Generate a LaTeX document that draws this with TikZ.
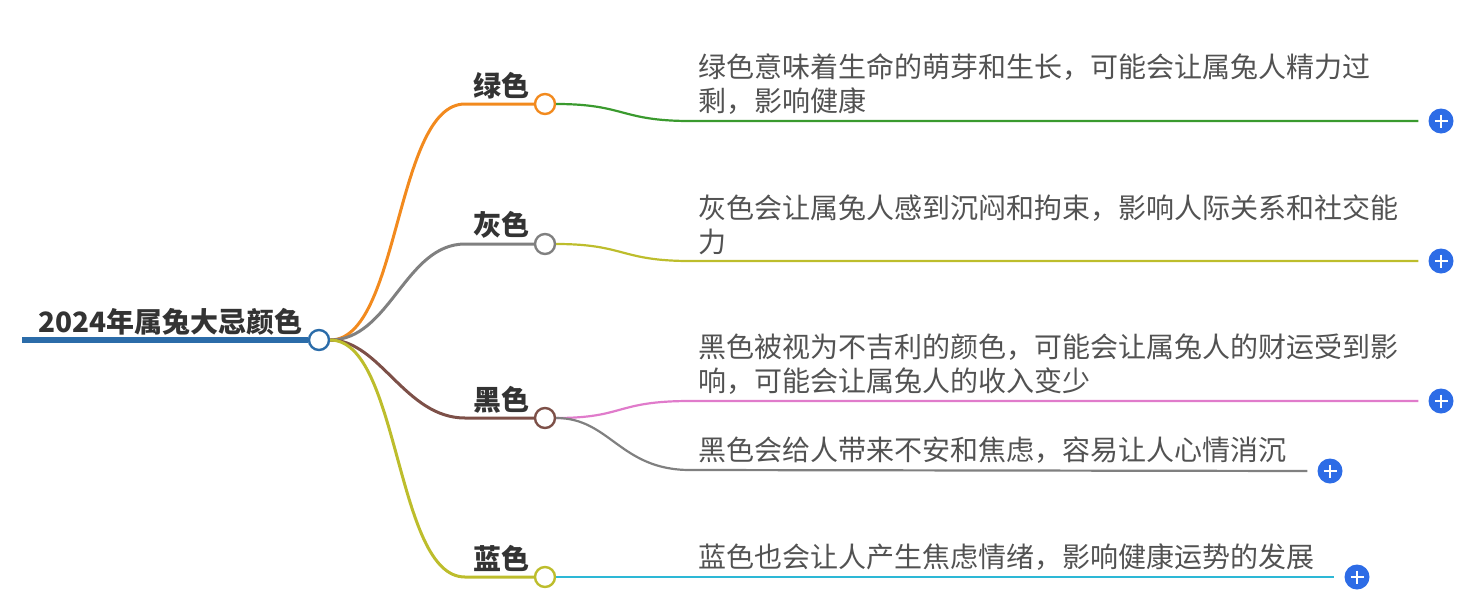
\documentclass[tikz,border=0pt]{standalone}
\usepackage{fontspec}
\setmainfont{Noto Sans CJK SC}
\usepackage{tikz}
\usetikzlibrary{arrows.meta,positioning,calc}
\definecolor{rootblue}{HTML}{2B6CA9}
\definecolor{orng}{HTML}{F28A1E}
\definecolor{greyb}{HTML}{808080}
\definecolor{brown}{HTML}{7D5048}
\definecolor{olive}{HTML}{BDBD2C}
\definecolor{leafgreen}{HTML}{3A9A2E}
\definecolor{pink}{HTML}{E07BCB}
\definecolor{cyan}{HTML}{2DB8D6}
\definecolor{btnblue}{HTML}{2D6CE6}
\definecolor{ink}{HTML}{333333}

\begin{document}
\begin{tikzpicture}[x=1pt,y=-1pt,
  dot/.style={circle,draw=#1,fill=white,line width=2.4pt,minimum size=20pt,inner sep=0pt},
  topic/.style={font=\fontsize{28}{32}\selectfont\bfseries,text=ink,inner sep=0pt},
  leaf/.style={anchor=south west,align=left,font=\fontsize{28}{34}\selectfont,text=ink!85,inner xsep=8pt,inner ysep=6pt},
  branch/.style={line width=3pt},
  twig/.style={line width=2.2pt,shorten >=10pt},
  plusbtn/.style={circle,fill=btnblue,minimum size=25pt,inner sep=0pt,
    path picture={\draw[white,line width=2.4pt]
      ($(path picture bounding box.center)+(-6.5,0)$) -- ++(13,0)
      ($(path picture bounding box.center)+(0,-6.5)$) -- ++(0,13);}}]
  \useasboundingbox (0,0) rectangle (1482,603);

  \coordinate (start) at (22,340);
  \node[dot=rootblue] (root) at (319,340) {};
  \node[topic,anchor=south west] (roottext) at (38,336) {2024年属兔大忌颜色};
  \draw[rootblue,line width=6pt] (start) -- (root.west);

  \node[dot=orng] (green) at (545,104) {};
  \node[dot=greyb] (grey) at (545,244) {};
  \node[dot=brown] (black) at (545,418) {};
  \node[dot=olive] (blue) at (545,577) {};

  \node[topic,anchor=south] at (501,99) (greenlbl) {绿色};
  \node[topic,anchor=south] at (501,239) (greylbl) {灰色};
  \node[topic,anchor=south] at (501,413) (blacklbl) {黑色};
  \node[topic,anchor=south] at (501,572) (bluelbl) {蓝色};

  \draw[branch,orng] (root.east) .. controls (400,340) and (395,104) .. (465,104) -- (green.west);
  \draw[branch,greyb] (root.east) .. controls (390,340) and (405,244) .. (465,244) -- (grey.west);
  \draw[branch,brown] (root.east) .. controls (380,340) and (405,418) .. (465,418) -- (black.west);
  \draw[branch,olive] (root.east) .. controls (400,340) and (395,577) .. (465,577) -- (blue.west);

  \node[leaf] (t1) at (690,121) {绿色意味着生命的萌芽和生长，可能会让属兔人精力过\\剩，影响健康};
  \node[leaf] (t2) at (690,261) {灰色会让属兔人感到沉闷和拘束，影响人际关系和社交能\\力};
  \node[leaf] (t3) at (690,401) {黑色被视为不吉利的颜色，可能会让属兔人的财运受到影\\响，可能会让属兔人的收入变少};
  \node[leaf] (t4) at (690,470) {黑色会给人带来不安和焦虑，容易让人心情消沉};
  \node[leaf] (t5) at (690,577) {蓝色也会让人产生焦虑情绪，影响健康运势的发展};

  \node[plusbtn] (p1) at (1441,121) {};
  \node[plusbtn] (p2) at (1441,261) {};
  \node[plusbtn] (p3) at (1441,401) {};
  \node[plusbtn] (p4) at (1330,471) {};
  \node[plusbtn] (p5) at (1357,577) {};

  \draw[twig,leafgreen] (green.east) .. controls (625,104) and (620,121) .. (t1.south west) -- (p1.west);
  \draw[twig,olive] (grey.east) .. controls (625,244) and (620,261) .. (t2.south west) -- (p2.west);
  \draw[twig,pink] (black.east) .. controls (625,418) and (615,401) .. (t3.south west) -- (p3.west);
  \draw[twig,greyb] (black.east) .. controls (610,418) and (620,470) .. (t4.south west) -- (p4.west);
  \draw[twig,cyan] (blue.east) -- (t5.south west) -- (p5.west);
\end{tikzpicture}
\end{document}
